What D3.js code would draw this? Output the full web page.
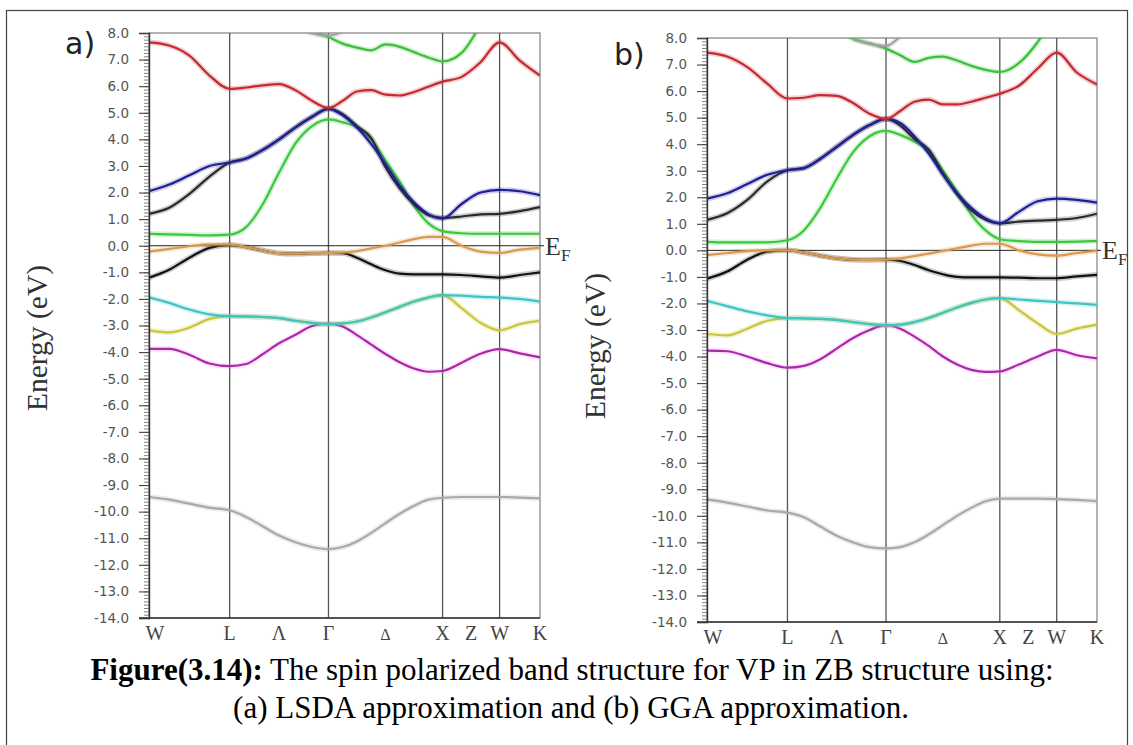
<!DOCTYPE html>
<html><head><meta charset="utf-8">
<script src="https://cdn.jsdelivr.net/npm/d3@7"></script>
<style>html,body{margin:0;padding:0;background:#fff;} svg{display:block}</style>
</head><body>
<svg id="fig" width="1133" height="745"></svg>
<script>
// ---------- DATA ----------
// k-path distance (units of 2π/a) along W–L–Γ–X–W–K
const kGrid = [0, 0.177, 0.354, 0.530, 0.707, 0.851, 0.996, 1.140, 1.284, 1.429, 1.573,
  1.698, 1.823, 1.948, 2.073, 2.198, 2.323, 2.448, 2.573, 2.740, 2.906, 3.073, 3.250, 3.427];
const symPoints = [0, 0.707, 1.573, 2.573, 3.073, 3.427];
const kLabels = ["W", "L", "Λ", "Γ", "Δ", "X", "Z", "W", "K"];
const kLabelPos = [0, 0.707, 1.140, 1.573, 2.073, 2.573, 2.823, 3.073, 3.427];
const yMajorTicks = d3.range(-14, 8.001, 1);
const energyDomain = [-14, 8];

// (a) LSDA bands, eV
const a_grey   = [-9.45,-9.55,-9.7,-9.85,-9.95,-10.2,-10.55,-10.9,-11.15,-11.33,-11.41,-11.33,-11.12,-10.8,-10.43,-10.08,-9.78,-9.55,-9.48,-9.45,-9.45,-9.45,-9.47,-9.5];
const a_magenta= [-3.88,-3.88,-4.1,-4.43,-4.53,-4.45,-4.08,-3.67,-3.35,-3.02,-2.93,-3.04,-3.36,-3.72,-4.07,-4.38,-4.62,-4.74,-4.71,-4.4,-4.06,-3.89,-4.05,-4.2];
const a_yellow = [-3.18,-3.26,-3.08,-2.75,-2.65,-2.66,-2.68,-2.72,-2.82,-2.9,-2.95,-2.92,-2.85,-2.7,-2.5,-2.3,-2.1,-1.95,-1.86,-2.35,-2.9,-3.18,-2.95,-2.82];
const a_cyan   = [-1.94,-2.15,-2.4,-2.58,-2.65,-2.66,-2.68,-2.72,-2.82,-2.9,-2.95,-2.92,-2.85,-2.7,-2.5,-2.3,-2.1,-1.95,-1.86,-1.88,-1.92,-1.95,-2.0,-2.1];
const a_blackV = [-1.2,-0.9,-0.45,-0.08,0.03,-0.05,-0.18,-0.28,-0.3,-0.28,-0.27,-0.28,-0.45,-0.7,-0.92,-1.05,-1.08,-1.08,-1.08,-1.1,-1.15,-1.2,-1.1,-1.0];
const a_orange = [-0.22,-0.12,-0.02,0.05,0.05,-0.05,-0.18,-0.28,-0.3,-0.28,-0.27,-0.25,-0.2,-0.1,0.0,0.12,0.25,0.33,0.33,0.0,-0.22,-0.27,-0.15,-0.08];
const a_green  = [0.45,0.43,0.41,0.39,0.42,0.7,1.55,2.75,3.85,4.5,4.75,4.64,4.45,4.0,3.2,2.4,1.5,0.85,0.55,0.47,0.45,0.45,0.45,0.45];
const a_blackC = [1.2,1.43,1.95,2.6,3.13,3.28,3.6,4.0,4.45,4.85,5.15,4.95,4.5,4.05,2.95,2.15,1.55,1.15,1.05,1.1,1.18,1.2,1.3,1.45];
const a_blue   = [2.05,2.3,2.65,3.0,3.13,3.28,3.6,4.0,4.45,4.85,5.15,4.9,4.45,3.82,3.07,2.26,1.63,1.19,1.02,1.57,2.0,2.1,2.05,1.9];
const a_red    = [7.65,7.53,7.15,6.4,5.9,5.95,6.03,6.08,5.85,5.45,5.18,5.45,5.8,5.85,5.68,5.65,5.78,5.98,6.17,6.35,6.9,7.65,6.96,6.4];
const a_green2 = [null,null,null,null,null,null,null,8.5,8.3,8.05,7.85,7.6,7.45,7.35,7.57,7.48,7.28,7.08,6.93,7.25,8.3,9.5,null,null];
const a_grey2  = [null,null,null,null,null,null,null,null,8.2,7.98,7.9,8.05,8.3,null,null,null,null,null,null,null,null,null,null,null];

// (b) GGA bands, eV
const b_grey   = [-9.38,-9.5,-9.65,-9.8,-9.88,-10.05,-10.4,-10.75,-11.0,-11.18,-11.23,-11.18,-11.0,-10.7,-10.35,-10.0,-9.7,-9.45,-9.35,-9.35,-9.35,-9.37,-9.4,-9.45];
const b_magenta= [-3.78,-3.8,-4.0,-4.25,-4.42,-4.35,-4.1,-3.7,-3.3,-3.0,-2.82,-2.95,-3.25,-3.6,-4.0,-4.3,-4.5,-4.58,-4.56,-4.3,-4.0,-3.75,-3.95,-4.07];
const b_yellow = [-3.15,-3.2,-2.95,-2.65,-2.55,-2.56,-2.58,-2.62,-2.7,-2.78,-2.82,-2.8,-2.7,-2.55,-2.35,-2.15,-1.98,-1.85,-1.8,-2.25,-2.75,-3.15,-2.95,-2.8];
const b_cyan   = [-1.9,-2.1,-2.3,-2.45,-2.55,-2.56,-2.58,-2.62,-2.7,-2.78,-2.82,-2.8,-2.7,-2.55,-2.35,-2.15,-1.98,-1.85,-1.8,-1.85,-1.9,-1.95,-2.0,-2.05];
const b_blackV = [-1.07,-0.8,-0.35,-0.05,0.0,-0.08,-0.2,-0.3,-0.35,-0.36,-0.35,-0.4,-0.55,-0.75,-0.9,-1.0,-1.02,-1.02,-1.02,-1.03,-1.05,-1.05,-0.98,-0.92];
const b_orange = [-0.18,-0.1,-0.03,0.0,0.0,-0.08,-0.2,-0.3,-0.35,-0.36,-0.35,-0.3,-0.22,-0.12,-0.02,0.08,0.18,0.25,0.25,0.0,-0.15,-0.2,-0.1,-0.02];
const b_green  = [0.32,0.3,0.3,0.3,0.38,0.75,1.6,2.7,3.7,4.3,4.5,4.35,4.1,3.75,3.0,2.2,1.35,0.75,0.42,0.35,0.32,0.32,0.33,0.35];
const b_blackC = [1.15,1.4,1.9,2.6,3.02,3.1,3.45,3.9,4.35,4.72,4.95,4.7,4.2,3.8,2.9,2.1,1.5,1.15,1.02,1.08,1.12,1.15,1.22,1.38];
const b_blue   = [1.95,2.15,2.5,2.85,3.02,3.1,3.45,3.9,4.35,4.72,4.95,4.8,4.3,3.65,2.85,2.15,1.6,1.2,1.02,1.45,1.85,1.95,1.9,1.8];
const b_red    = [7.45,7.3,6.9,6.28,5.72,5.75,5.85,5.82,5.55,5.15,4.95,5.25,5.6,5.68,5.5,5.5,5.6,5.75,5.9,6.2,6.85,7.45,6.7,6.25];
const b_green2 = [null,null,null,null,null,null,null,8.3,7.97,7.8,7.6,7.35,7.1,7.25,7.3,7.15,6.95,6.8,6.72,7.05,7.85,9.0,null,null];
const b_grey2  = [null,null,null,null,null,null,null,null,7.95,7.78,7.7,8.05,8.5,null,null,null,null,null,null,null,null,null,null,null];

const captionBold = "Figure(3.14):";
const captionRest = " The spin polarized band structure for VP in ZB structure using:";
const captionLine2 = "(a) LSDA approximation and (b) GGA approximation.";

// ---------- STYLE / LAYOUT ----------
const colors = {grey:"#a9a9a9", magenta:"#a82aa8", yellow:"#c9c63e", cyan:"#3fc3c3", blackV:"#111",
  orange:"#d99a50", green:"#3cc83c", blackC:"#2a2a2a", blue:"#1e1e96", red:"#c42a30", green2:"#3cc03c", grey2:"#a0a0a0"};
const halo = {magenta:"#ff7fff"};

const panels = [
  {tag:"a)", box:{x0:149, x1:540, y0:33, y1:618}, tagPos:[65,54], ylabPos:[37,338],
   bands:{grey:a_grey, magenta:a_magenta, yellow:a_yellow, cyan:a_cyan, blackV:a_blackV, orange:a_orange,
          green:a_green, blackC:a_blackC, blue:a_blue, red:a_red, green2:a_green2, grey2:a_grey2}},
  {tag:"b)", box:{x0:707, x1:1097, y0:38, y1:622}, tagPos:[614,65], ylabPos:[595,346],
   bands:{grey:b_grey, magenta:b_magenta, yellow:b_yellow, cyan:b_cyan, blackV:b_blackV, orange:b_orange,
          green:b_green, blackC:b_blackC, blue:b_blue, red:b_red, green2:b_green2, grey2:b_grey2}}
];
const drawOrder = ["grey","magenta","yellow","cyan","blackV","orange","green","blackC","blue","red","green2","grey2"];

const svg = d3.select("#fig");
svg.append("rect").attr("x",6.5).attr("y",10.5).attr("width",1121).attr("height",800)
  .attr("fill","none").attr("stroke","#444").attr("stroke-width",1.2);

panels.forEach((p, pi) => {
  const b = p.box;
  const x = d3.scaleLinear().domain([0, 3.427]).range([b.x0, b.x1]);
  const y = d3.scaleLinear().domain(energyDomain).range([b.y1, b.y0]);
  const g = svg.append("g");
  const clipId = "clip" + pi;
  g.append("clipPath").attr("id", clipId).append("rect")
    .attr("x", b.x0).attr("y", b.y0).attr("width", b.x1 - b.x0).attr("height", b.y1 - b.y0);

  // frame
  g.append("rect").attr("x", b.x0).attr("y", b.y0).attr("width", b.x1 - b.x0).attr("height", b.y1 - b.y0)
    .attr("fill", "none").attr("stroke", "#8a8a8a").attr("stroke-width", 1.3);

  // symmetry lines
  g.selectAll(".sym").data(symPoints.slice(1, -1)).join("line")
    .attr("x1", d => x(d)).attr("x2", d => x(d)).attr("y1", b.y0).attr("y2", b.y1)
    .attr("stroke", "#555").attr("stroke-width", 1.3);

  // Fermi level
  g.append("line").attr("x1", b.x0).attr("x2", b.x1 + 4).attr("y1", y(0)).attr("y2", y(0))
    .attr("stroke", "#222").attr("stroke-width", 1);

  // bands
  const line = d3.line().defined(d => d[1] !== null).x(d => x(d[0])).y(d => y(d[1])).curve(d3.curveMonotoneX);
  const bg = g.append("g").attr("clip-path", `url(#${clipId})`);
  drawOrder.forEach(name => {
    const pts = kGrid.map((k, i) => [k, p.bands[name][i]]);
    bg.append("path").attr("d", line(pts)).attr("fill", "none")
      .attr("stroke", halo[name] || colors[name]).attr("stroke-opacity", 0.22).attr("stroke-width", 5.5)
      .attr("stroke-linejoin", "round");
    bg.append("path").attr("d", line(pts)).attr("fill", "none")
      .attr("stroke", colors[name]).attr("stroke-width", 2.2).attr("stroke-linejoin", "round");
  });

  // y axis minor
  const minor = d3.range(-14, 8.0001, 0.125);
  g.append("g").attr("transform", `translate(${b.x0},0)`)
    .call(d3.axisLeft(y).tickValues(minor).tickSize(5).tickFormat(""))
    .call(s => { s.select(".domain").remove(); s.selectAll("line").attr("stroke", "#666").attr("stroke-width", 0.8); });
  // y axis major
  const ax = g.append("g").attr("transform", `translate(${b.x0},0)`)
    .call(d3.axisLeft(y).tickValues(yMajorTicks).tickSize(10).tickPadding(10).tickFormat(d => d.toFixed(1)));
  ax.select(".domain").attr("stroke", "#333").attr("stroke-width", 1.4);
  ax.selectAll("line").attr("stroke", "#444").attr("stroke-width", 1.1);
  ax.selectAll("text").attr("font-family", "DejaVu Sans").attr("font-size", 13.5).attr("fill", "#555");

  // bottom axis line
  g.append("line").attr("x1", b.x0 - 10).attr("x2", b.x1).attr("y1", b.y1).attr("y2", b.y1)
    .attr("stroke", "#333").attr("stroke-width", 1.6);

  // k labels
  g.selectAll(".klab").data(kLabels).join("text")
    .attr("x", (d, i) => x(kLabelPos[i]) + (i === 0 ? 6 : 0)).attr("y", b.y1 + 22)
    .attr("text-anchor", "middle").attr("font-family", "Liberation Serif")
    .attr("font-size", d => d === "Δ" ? 16 : 20).attr("fill", "#444").text(d => d);

  // E_F label
  const ef = g.append("text").attr("x", b.x1 + 5).attr("y", y(0) + 9)
    .attr("font-family", "Liberation Serif").attr("font-size", 26).attr("fill", "#333");
  ef.append("tspan").text("E");
  ef.append("tspan").attr("font-size", 17).attr("dy", 6).text("F");

  // y label
  g.append("text").attr("transform", `translate(${p.ylabPos[0]},${p.ylabPos[1]}) rotate(-90)`)
    .attr("text-anchor", "middle").attr("dominant-baseline", "central")
    .attr("font-family", "Liberation Serif").attr("font-size", 29.5).attr("fill", "#333").text("Energy (eV)");

  // panel tag
  g.append("text").attr("x", p.tagPos[0]).attr("y", p.tagPos[1])
    .attr("font-family", "DejaVu Sans").attr("font-size", 30).attr("fill", "#222").text(p.tag);
});

// caption
const cap = svg.append("text").attr("x", 572).attr("y", 680).attr("text-anchor", "middle")
  .attr("font-family", "Liberation Serif").attr("font-size", 31).attr("fill", "#000");
cap.append("tspan").attr("font-weight", "bold").text(captionBold);
cap.append("tspan").text(captionRest);
svg.append("text").attr("x", 571).attr("y", 718).attr("text-anchor", "middle")
  .attr("font-family", "Liberation Serif").attr("font-size", 31).attr("fill", "#000").text(captionLine2);
</script>
</body></html>
